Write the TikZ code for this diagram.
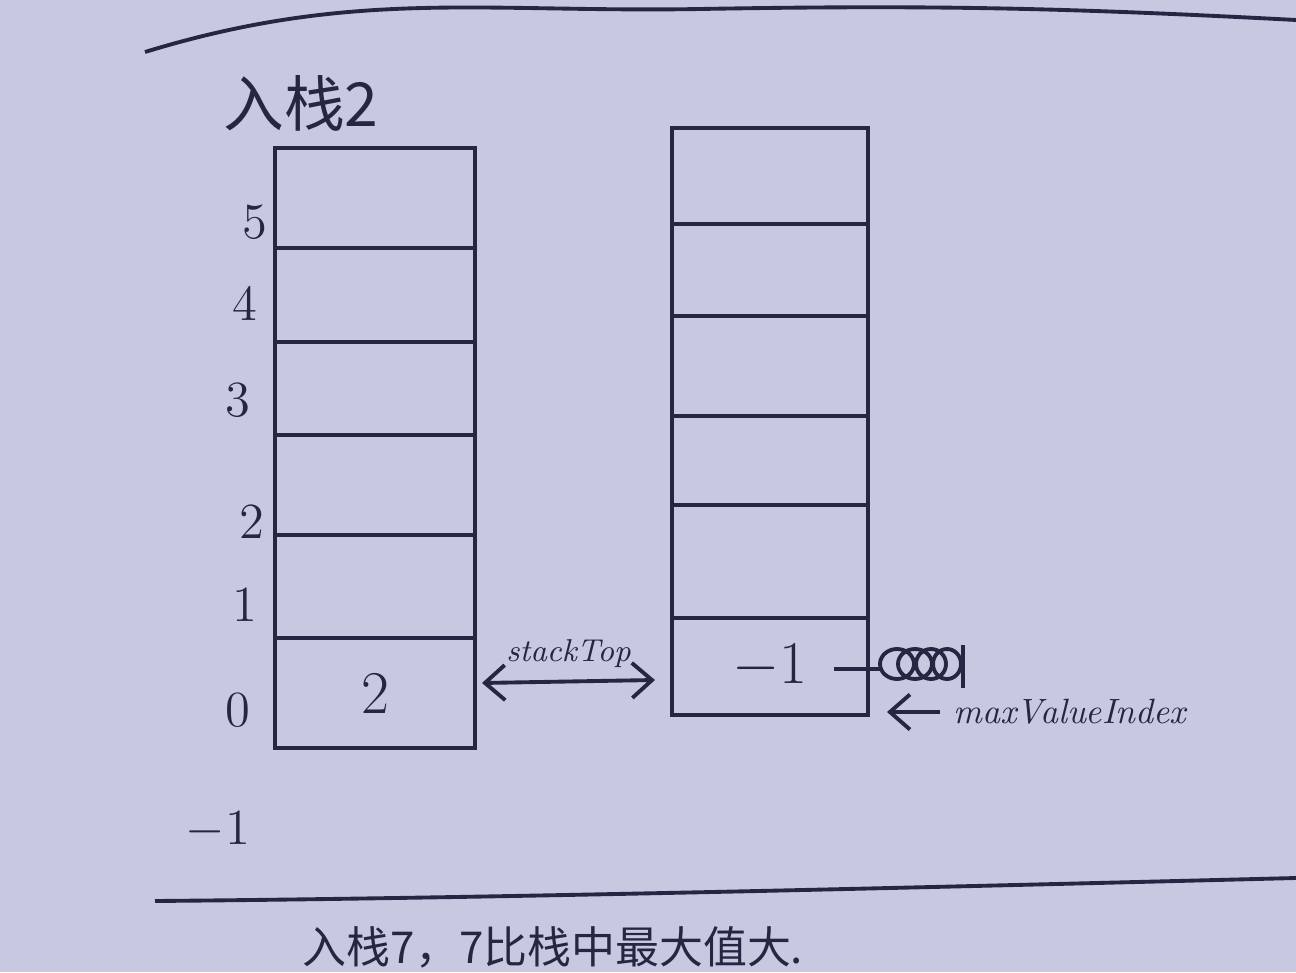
\documentclass[tikz,border=0pt]{standalone}
\usepackage{fontspec}
\usepackage{tikz}
\usetikzlibrary{arrows.meta}
\newfontfamily\cjk{Noto Sans CJK SC}
\definecolor{paper}{RGB}{200,200,224}
\definecolor{ink}{RGB}{38,38,66}

\begin{document}
\begin{tikzpicture}[>={Straight Barb[length=2mm,width=3.5mm]},line width=1.1pt,color=ink]
			\path[use as bounding box,fill=paper] (0,0) rectangle (12.96,9.72);
			\clip (0,0) rectangle (12.96,9.72);

			\begin{scope}[]
	    		\draw (1.45,9.20) to[out=17,in=181] (7.0,9.63) to[out=1,in=177] (12.96,9.52);
	    		\draw (1.55,0.71) .. controls (5,0.74) and (9,0.84) .. (12.96,0.94);
	    		\node[font=\cjk\LARGE] (title) at (3.01,8.69) {入栈2};
	    		\node[font=\cjk\fontsize{12.5}{14}\selectfont] (note) at (5.53,0.25) {入栈7，7比栈中最大值大.};
			\end{scope}

			\begin{scope}[every node/.style={rectangle,draw,inner sep=0pt,minimum width=2cm}]
	    		\node[minimum height=1cm] (L5) at (3.75,7.74) {};
	    		\node[minimum height=0.94cm] (L4) at (3.75,6.77) {};
	    		\node[minimum height=0.93cm] (L3) at (3.75,5.835) {};
	    		\node[minimum height=1cm] (L2) at (3.75,4.87) {};
	    		\node[minimum height=1.03cm] (L1) at (3.75,3.855) {};
	    		\node[minimum height=1.1cm] (L0) at (3.75,2.79) {\LARGE\raisebox{-2mm}{2}};
			\end{scope}
			\begin{scope}[every node/.style={rectangle,draw,inner sep=0pt,minimum width=1.96cm}]
	    		\node[minimum height=0.96cm] (R5) at (7.70,7.96) {};
	    		\node[minimum height=0.92cm] (R4) at (7.70,7.02) {};
	    		\node[minimum height=1cm] (R3) at (7.70,6.06) {};
	    		\node[minimum height=0.89cm] (R2) at (7.70,5.115) {};
	    		\node[minimum height=1.13cm] (R1) at (7.70,4.105) {};
	    		\node[minimum height=0.97cm] (R0) at (7.70,3.055) {\LARGE $-1$};
			\end{scope}

			\begin{scope}[every node/.style={font=\Large}]
	    		\node (i5) at (2.55,7.50) {5};
	    		\node (i4) at (2.45,6.69) {4};
	    		\node (i3) at (2.38,5.72) {3};
	    		\node (i2) at (2.52,4.50) {2};
	    		\node (i1) at (2.45,3.67) {1};
	    		\node (i0) at (2.38,2.62) {0};
	    		\node (im1) at (2.18,1.42) {$-1$};
			\end{scope}

			\begin{scope}[every node/.style={font=\itshape}]
	    		\coordinate (topL) at (4.82,2.89);
	    		\coordinate (topR) at (6.55,2.92);
				\path [<->] (topL) edge node[above] {\small stackTop} (topR);
	    		\node[anchor=west] (maxv) at (9.40,2.60) {maxValueIndex};
	    		\coordinate (idx) at (8.87,2.60);
	    		\path [->] (maxv) edge (idx);
			\end{scope}

			\begin{scope}[]
	    		\coordinate (scrA) at (8.34,3.03);
	    		\coordinate (scrB) at (8.80,3.03);
	    		\draw (scrA) -- (scrB);
	    		\foreach \x/\r in {8.97/0.17,9.15/0.17,9.31/0.15,9.47/0.14}
	    			\draw (\x,3.08) ellipse ({\r} and 0.15);
	    		\draw (9.63,3.27) -- (9.63,2.84);
			\end{scope}
		\end{tikzpicture}
\end{document}
